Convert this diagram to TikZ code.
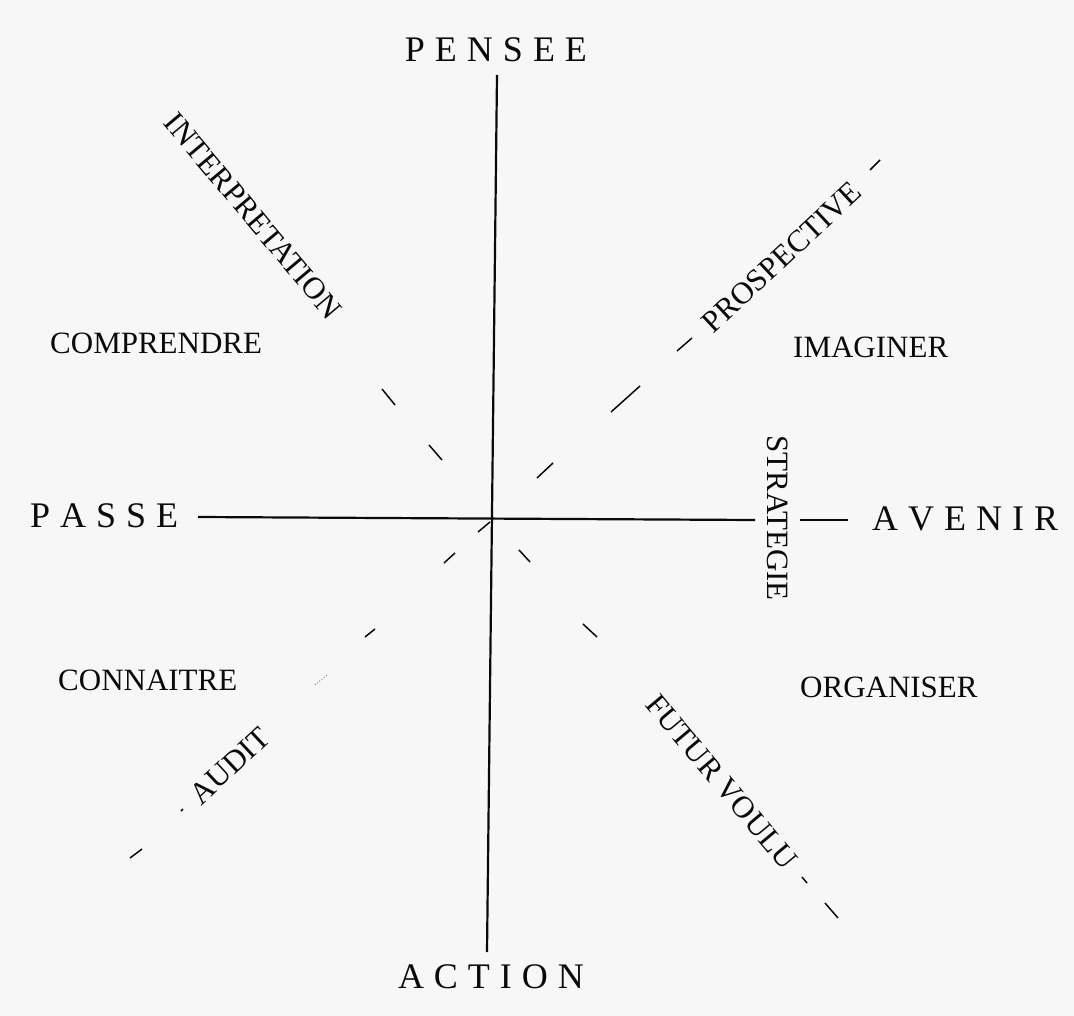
\documentclass[tikz,border=0pt]{standalone}
\usepackage{fontspec}
\setmainfont{Liberation Serif}
\definecolor{paper}{RGB}{247,247,247}
\definecolor{ink}{RGB}{10,10,10}
\newcommand\lsp{\kern 10pt}
\tikzset{
  big/.style={inner sep=0pt, text=ink, font=\fontsize{36}{40}\selectfont},
  small/.style={inner sep=0pt, text=ink, font=\fontsize{31}{36}\selectfont},
  axis/.style={draw=ink, line width=2.2pt},
  tick/.style={draw=ink, line width=1.5pt},
  faint/.style={draw=ink!60, line width=0.9pt, dotted}
}
\begin{document}
\begin{tikzpicture}[x=1pt,y=-1pt]
\fill[paper] (0,0) rectangle (1074,1016);
\useasboundingbox (0,0) rectangle (1074,1016);

% main labels
\node[big, anchor=base] (pensee) at (496,62) {P\lsp E\lsp N\lsp S\lsp E\lsp E};
\node[big, anchor=base] (action) at (491,988) {A\lsp C\lsp T\lsp I\lsp O\lsp N};
\node[big, anchor=base west] (passe) at (30,527) {P\lsp A\lsp S\lsp S\lsp E};
\node[big, anchor=base west] (avenir) at (872,530) {A\lsp V\lsp E\lsp N\lsp I\lsp R};

% quadrant labels
\node[small, anchor=base west] (comprendre) at (50,354) {COMPRENDRE};
\node[small, anchor=base west] (imaginer) at (793,358) {IMAGINER};
\node[small, anchor=base west] (connaitre) at (58,690) {CONNAITRE};
\node[small, anchor=base west] (organiser) at (800,697) {ORGANISER};

% axes
\coordinate (vt) at (497,75);
\coordinate (vb) at (487,952);
\coordinate (hl) at (198,517);
\coordinate (hr) at (755,520);
\coordinate (hr2) at (800,520);
\coordinate (hr3) at (848,520);
\path[axis] (vt) -- (vb);
\path[axis] (hl) -- (hr);
\path[axis] (hr2) -- (hr3);
\node[small, rotate=-90] (strategie) at (778,518) {STRATEGIE};

% diagonal lower-left -> upper-right
\node[small, rotate=43] (audit) at (230,766) {AUDIT};
\node[small, rotate=43] (prospective) at (782,257) {PROSPECTIVE};
\path[tick] (130,858) -- (142,849);
\path[tick] (181,811) -- (183,809);
\path[faint] (315,685) -- (327,675);
\path[tick] (365,637) -- (375,629);
\path[tick] (444,563) -- (455,553);
\path[tick] (478,532) -- (490,522);
\path[tick] (537,478) -- (553,463);
\path[tick] (611,412) -- (640,386);
\path[tick] (677,351) -- (692,338);
\path[tick] (870,170) -- (880,160);

% diagonal upper-left -> lower-right
\node[small, rotate=-50] (interpretation) at (253,216) {INTERPRETATION};
\node[small, rotate=-50] (futur) at (722,782) {FUTUR VOULU};
\path[tick] (382,389) -- (395,405);
\path[tick] (429,445) -- (442,460);
\path[tick] (519,550) -- (530,562);
\path[tick] (583,624) -- (597,637);
\path[tick] (802,877) -- (807,883);
\path[tick] (825,903) -- (838,918);
\end{tikzpicture}
\end{document}
